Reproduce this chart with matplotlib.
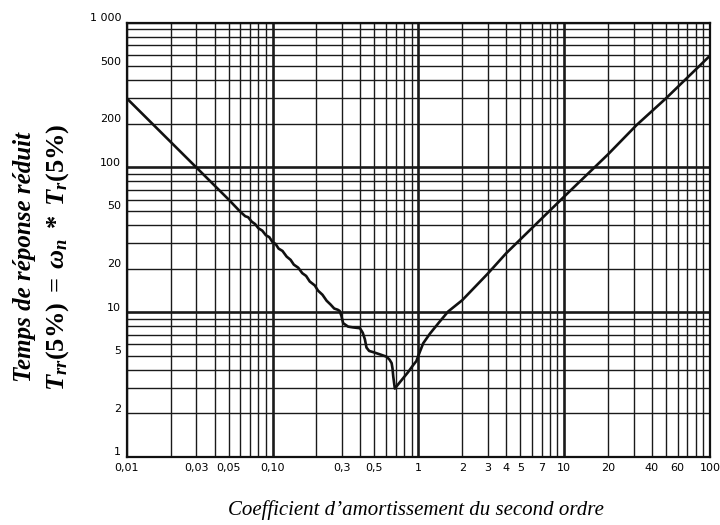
import numpy as np
import matplotlib
matplotlib.use('Agg')
import matplotlib.pyplot as plt
from matplotlib.ticker import LogLocator, NullFormatter
from matplotlib.transforms import ScaledTranslation

# Reduced 5% response time vs damping coefficient
zeta = [0.01, 0.02, 0.03, 0.04, 0.05, 0.06, 0.065, 0.068, 0.072, 0.076, 0.08, 0.085,
        0.09, 0.095, 0.10, 0.105, 0.11, 0.117, 0.125, 0.133, 0.14, 0.15, 0.16, 0.17,
        0.18, 0.195, 0.205, 0.22, 0.235, 0.25, 0.265, 0.28, 0.289, 0.297, 0.305, 0.33,
        0.357, 0.398, 0.416, 0.43, 0.441, 0.46, 0.49, 0.55, 0.605, 0.635, 0.656, 0.665,
        0.673, 0.69, 0.75, 0.85, 0.92, 0.97, 1.0, 1.08, 1.2, 1.4, 1.6, 2.0, 3.0, 4.0,
        6.0, 10.0, 20.0, 31.4, 50.0, 100.0]
trr = [300, 150, 100, 75, 60, 49.5, 46, 45.3, 42.2, 40.6, 38.0, 36.6,
       34.0, 33.0, 30.5, 29.6, 27.5, 26.5, 24.2, 23.0, 21.3, 20.3, 18.6, 17.8,
       16.3, 15.3, 14.1, 13.2, 12.0, 11.3, 10.6, 10.4, 10.2, 9.4, 8.4, 7.95,
       7.85, 7.75, 7.2, 6.5, 5.7, 5.4, 5.3, 5.1, 4.93, 4.7, 4.45, 4.1,
       3.6, 2.97, 3.3, 3.85, 4.3, 4.6, 5.0, 6.1, 7.1, 8.6, 10.1, 12.1, 18.5, 25.5,
       38.0, 62.8, 123, 196, 300, 590]

x_ticks = [0.01, 0.03, 0.05, 0.1, 0.3, 0.5, 1, 2, 3, 4, 5, 7, 10, 20, 40, 60, 100]
x_labels = ['0,01', '0,03', '0,05', '0,10', '0,3', '0,5', '1', '2', '3', '4', '5', '7',
            '10', '20', '40', '60', '100']
y_ticks = [1, 2, 5, 10, 20, 50, 100, 200, 500, 1000]
y_labels = ['1', '2', '5', '10', '20', '50', '100', '200', '500', '1 000']
decades_x = [0.1, 1, 10]
decades_y = [10, 100]

plt.rcParams['mathtext.fontset'] = 'custom'
plt.rcParams['mathtext.rm'] = 'Liberation Serif:bold'
plt.rcParams['mathtext.it'] = 'Liberation Serif:italic:bold'
plt.rcParams['mathtext.bf'] = 'Liberation Serif:bold'

fig = plt.figure(figsize=(7.2, 5.25), dpi=100)
ax = fig.add_axes([0.176, 0.1295, 0.81, 0.8275])
ax.set_xscale('log')
ax.set_yscale('log')
ax.set_xlim(0.01, 100)
ax.set_ylim(1, 1000)

ax.set_xticks(x_ticks)
ax.set_xticklabels(x_labels, fontsize=8, family='DejaVu Sans')
ax.set_yticks(y_ticks)
ax.set_yticklabels(y_labels, fontsize=8, family='DejaVu Sans')

ax.xaxis.set_minor_locator(LogLocator(base=10, subs=np.arange(1, 10), numticks=100))
ax.yaxis.set_minor_locator(LogLocator(base=10, subs=np.arange(1, 10), numticks=100))
ax.xaxis.set_minor_formatter(NullFormatter())
ax.yaxis.set_minor_formatter(NullFormatter())
ax.xaxis.remove_overlapping_locs = False
ax.yaxis.remove_overlapping_locs = False
ax.grid(which='minor', color='#1a1a1a', lw=1.0)
ax.grid(which='major', visible=False)
for d in decades_x:
    ax.axvline(d, color='#111111', lw=1.8, zorder=1)
for d in decades_y:
    ax.axhline(d, color='#111111', lw=1.8, zorder=1)

ax.tick_params(which='both', length=0)
ax.tick_params(axis='x', pad=4)
ax.tick_params(axis='y', pad=4)
off = ScaledTranslation(0, 4 / 72, fig.dpi_scale_trans)
for lab in ax.get_yticklabels():
    lab.set_transform(lab.get_transform() + off)

for s in ax.spines.values():
    s.set_linewidth(1.6)
    s.set_color('#111111')

ax.plot(zeta, trr, color='#111111', lw=1.9, zorder=3)

fig.text(0.034, 0.51, "Temps de réponse réduit", rotation=90, ha='center', va='center',
         family='Liberation Serif', style='italic', weight='bold', fontsize=18)
fig.text(0.08, 0.51, r"$T_{rr}\mathrm{(5\%)}\;=\;\omega_n\;*\;T_r\mathrm{(5\%)}$",
         rotation=90, ha='center', va='center', fontsize=19)
fig.text(0.577, 0.028, "Coefficient d\u2019amortissement du second ordre", ha='center',
         va='center', family='Liberation Serif', style='italic', fontsize=15)

fig.savefig('out.png', dpi=100, facecolor='white')
